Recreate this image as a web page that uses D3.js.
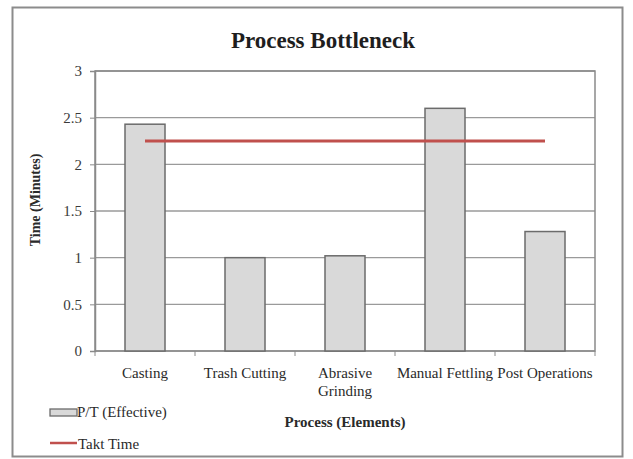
<!DOCTYPE html>
<html>
<head>
<meta charset="utf-8">
<script src="https://cdn.jsdelivr.net/npm/d3@7/dist/d3.min.js"></script>
<style>
  html, body { margin: 0; padding: 0; background: #fff; }
  svg { display: block; }
  text { font-family: "Liberation Serif", "Times New Roman", serif; }
</style>
</head>
<body>
<svg id="chart" width="633" height="459"></svg>
<script>
// Process steps and their effective processing time (minutes)
const categories = ["Casting", "Trash Cutting", "Abrasive Grinding", "Manual Fettling", "Post Operations"];
const categoryLines = [["Casting"], ["Trash Cutting"], ["Abrasive", "Grinding"], ["Manual Fettling"], ["Post Operations"]];
const ptEffective = [2.43, 1.0, 1.02, 2.6, 1.28];
// Takt time, constant across all steps
const taktTime = [2.25, 2.25, 2.25, 2.25, 2.25];
const yTicks = [0, 0.5, 1, 1.5, 2, 2.5, 3];
const yTickLabels = ["0", "0.5", "1", "1.5", "2", "2.5", "3"];

const svg = d3.select("#chart");
const plot = { left: 95, right: 595, top: 71, bottom: 351 };
const textColor = "#2a2a2a";

// Outer chart frame
svg.append("rect")
  .attr("x", 12.5).attr("y", 7.5)
  .attr("width", 610).attr("height", 449)
  .attr("fill", "#fff").attr("stroke", "#8c8c8c").attr("stroke-width", 2);

// Title
svg.append("text")
  .attr("x", 323).attr("y", 48)
  .attr("text-anchor", "middle")
  .attr("font-size", 23).attr("font-weight", "bold").attr("fill", "#1e1e1e")
  .text("Process Bottleneck");

const x = d3.scaleBand()
  .domain(categories)
  .range([plot.left, plot.right])
  .paddingInner(0.6).paddingOuter(0.3);

const xc = d3.scaleBand().domain(categories).range([plot.left, plot.right]);

const y = d3.scaleLinear().domain([0, 3]).range([plot.bottom, plot.top]);

// Horizontal gridlines
svg.append("g")
  .selectAll("line")
  .data(yTicks)
  .join("line")
  .attr("x1", plot.left).attr("x2", plot.right)
  .attr("y1", d => y(d)).attr("y2", d => y(d))
  .attr("stroke", "#9a9a9a").attr("stroke-width", 1.3);

// Plot area border
svg.append("rect")
  .attr("x", plot.left).attr("y", plot.top)
  .attr("width", plot.right - plot.left).attr("height", plot.bottom - plot.top)
  .attr("fill", "none").attr("stroke", "#8a8a8a").attr("stroke-width", 1.5);

// Y axis
const yAxis = d3.axisLeft(y)
  .tickValues(yTicks)
  .tickFormat((d, i) => yTickLabels[i])
  .tickSize(5).tickPadding(8);
const gy = svg.append("g").attr("transform", `translate(${plot.left},0)`).call(yAxis);
gy.select(".domain").attr("stroke", "#8a8a8a").attr("stroke-width", 1.5);
gy.selectAll(".tick line").attr("stroke", "#8a8a8a");
gy.selectAll(".tick text")
  .attr("font-size", 15).attr("fill", "#3a3a3a");

// X axis tick marks at category boundaries
const gx = svg.append("g");
gx.selectAll("line")
  .data(d3.range(categories.length + 1))
  .join("line")
  .attr("x1", i => plot.left + i * xc.step())
  .attr("x2", i => plot.left + i * xc.step())
  .attr("y1", plot.bottom).attr("y2", plot.bottom + 5)
  .attr("stroke", "#8a8a8a");

// Category labels
gx.selectAll("text")
  .data(categories)
  .join("text")
  .attr("text-anchor", "middle")
  .attr("font-size", 15).attr("fill", textColor)
  .attr("transform", d => `translate(${xc(d) + xc.bandwidth() / 2},378)`)
  .each(function(d, i) {
    d3.select(this).selectAll("tspan")
      .data(categoryLines[i])
      .join("tspan")
      .attr("x", 0)
      .attr("dy", (t, j) => j === 0 ? 0 : 18)
      .text(t => t);
  });

// Bars
svg.append("g")
  .selectAll("rect")
  .data(ptEffective)
  .join("rect")
  .attr("x", (d, i) => x(categories[i]))
  .attr("y", d => y(d))
  .attr("width", x.bandwidth())
  .attr("height", d => y(0) - y(d))
  .attr("fill", "#d9d9d9").attr("stroke", "#6b6b6b").attr("stroke-width", 1.5);

// Takt time line
const line = d3.line()
  .x((d, i) => xc(categories[i]) + xc.bandwidth() / 2)
  .y(d => y(d));
svg.append("path")
  .datum(taktTime)
  .attr("d", line)
  .attr("fill", "none").attr("stroke", "#c0504d").attr("stroke-width", 3);

// Axis titles
svg.append("text")
  .attr("transform", `translate(40,200) rotate(-90)`)
  .attr("text-anchor", "middle")
  .attr("font-size", 14).attr("font-weight", "bold").attr("fill", textColor)
  .text("Time (Minutes)");

svg.append("text")
  .attr("x", 345).attr("y", 427)
  .attr("text-anchor", "middle")
  .attr("font-size", 15).attr("font-weight", "bold").attr("fill", textColor)
  .text("Process (Elements)");

// Legend
const legend = svg.append("g");
legend.append("rect")
  .attr("x", 50).attr("y", 409).attr("width", 27).attr("height", 7)
  .attr("fill", "#d9d9d9").attr("stroke", "#6b6b6b").attr("stroke-width", 1.3);
legend.append("text")
  .attr("x", 77).attr("y", 417)
  .attr("font-size", 15).attr("fill", textColor)
  .text("P/T (Effective)");
legend.append("line")
  .attr("x1", 50).attr("x2", 77).attr("y1", 443).attr("y2", 443)
  .attr("stroke", "#c0504d").attr("stroke-width", 2.5);
legend.append("text")
  .attr("x", 78).attr("y", 449)
  .attr("font-size", 15).attr("fill", textColor)
  .text("Takt Time");
</script>
</body>
</html>
